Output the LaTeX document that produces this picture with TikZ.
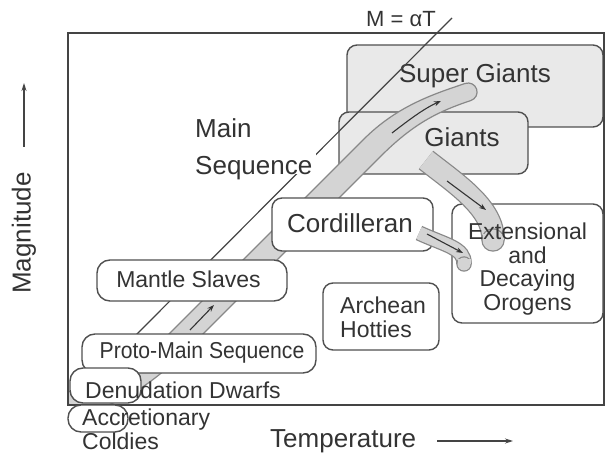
\documentclass[tikz,border=0pt]{standalone}
\usepackage{fontspec}
\setmainfont{Liberation Sans}
\usetikzlibrary{arrows.meta,calc}
\pgfdeclarelayer{bg}
\pgfdeclarelayer{bands}
\pgfdeclarelayer{front}
\pgfdeclarelayer{fronttext}
\pgfsetlayers{bg,bands,main,front,fronttext}
\definecolor{textc}{HTML}{333333}
\definecolor{linec}{HTML}{444444}
\definecolor{boxc}{HTML}{505050}
\definecolor{bandfill}{HTML}{D4D4D4}
\definecolor{bandedge}{HTML}{888888}
\definecolor{giantfill}{HTML}{E9E9E9}
\begin{document}
\begin{tikzpicture}[x=1pt,y=-1pt,
  box/.style={draw=boxc, line width=1.4pt, rounded corners=10pt, fill=white, inner sep=0pt},
  roundbox/.style={box, rounded corners=13pt},
  gbox/.style={box, fill=giantfill},
  txt/.style={text=textc, inner sep=0pt},
  big/.style={font=\fontsize{26}{30}\selectfont},
  small/.style={font=\fontsize{23}{24}\selectfont},
  tip/.style={-{Stealth[length=7pt,width=5pt]}, draw=textc, line width=1.1pt},
  axarrow/.style={-{Stealth[length=8pt,width=5pt]}, draw=linec, line width=1.1pt},
  bandout/.style={draw=bandedge},
  bandin/.style={draw=bandfill}
]
\useasboundingbox (0,0) rectangle (605,454);

% frame
\draw[draw=linec, line width=1.8pt] (68,33) rectangle (604,405);

% giant boxes (background)
\begin{pgfonlayer}{bg}
\node[gbox, minimum width=256pt, minimum height=82pt] (sgbox) at (475,86) {};
\node[gbox, minimum width=189pt, minimum height=62pt] (gbox) at (433.5,143) {};
\node[txt, big, anchor=base] (sg) at (475,83) {Super Giants};
\node[txt, big, anchor=base] (g) at (462,147) {Giants};
\end{pgfonlayer}

% coordinates
\coordinate (L1) at (452,18);
\coordinate (L2) at (128,343);
\coordinate (mbA) at (75,412);
\coordinate (mbB) at (166.5,336.5);
\coordinate (mbC) at (363.5,139.5);
\coordinate (mbL) at (465.1,83.5);
\coordinate (mbT) at (476.6,89.1);
\coordinate (mbR) at (470.9,100.5);
\coordinate (mbC2) at (380.5,156.5);
\coordinate (mbB2) at (183.5,353.5);
\coordinate (gE) at (426,160);
\coordinate (gF) at (493,240);
\coordinate (cG) at (419,233);
\coordinate (cH) at (464,264);

% line M = alpha T and main band
\begin{pgfonlayer}{bands}
\draw[draw=linec, line width=1.2pt] (L1) -- (L2);
\begin{scope}
\clip (68,33) rectangle (604,405);
\draw[fill=bandfill, draw=bandedge, line width=1.2pt]
  (mbA) -- (60,393) .. controls (100,388) and (132,372) .. (mbB) -- (mbC)
  .. controls (396.5,106.5) and (432,94.5) .. (mbL)
  .. controls (469.9,81.9) and (475.0,84.3) .. (mbT)
  .. controls (478.2,93.9) and (475.7,98.9) .. (mbR)
  .. controls (438,111.5) and (413.5,123.5) .. (mbC2) -- (mbB2)
  .. controls (150,385) and (115,410) .. cycle;
\end{scope}
\coordinate (a1s) at (190,330);
\coordinate (a1e) at (214,305);
\coordinate (a2s) at (392,133);
\coordinate (a2e) at (441,101);
\draw[tip] (a1s) -- (a1e);
\draw[tip] (a2s) .. controls (410,119) and (425,108) .. (a2e);
\end{pgfonlayer}

% white boxes
\node[box, minimum width=161pt, minimum height=53pt] (cordbox) at (352.5,224.5) {};
\node[roundbox, minimum width=190pt, minimum height=41pt] (mantlebox) at (192,280.5) {};
\node[roundbox, minimum width=234pt, minimum height=39pt] (protobox) at (199,353.5) {};
\node[roundbox, minimum width=71pt, minimum height=35pt] (denbox) at (105.5,385.5) {};
\node[roundbox, minimum width=60pt, minimum height=27pt] (accbox) at (98,418.5) {};
\node[box, minimum width=116pt, minimum height=67pt] (archbox) at (381,316.5) {};
\node[box, minimum width=151pt, minimum height=119pt] (extbox) at (527.5,263.5) {};

% texts
\node[txt, big, anchor=base] (cord) at (350,233) {Cordilleran};
\node[txt, small, anchor=base] (mantle) at (188.5,288) {Mantle Slaves};
\node[txt, small, anchor=base] (proto) at (202,358) {\scalebox{0.92}[1]{Proto-Main Sequence}};
\node[txt, small, anchor=base west] (den) at (85,398) {Denudation Dwarfs};
\node[txt, anchor=north west, align=left, font=\fontsize{23}{23.5}\selectfont] (acc) at (82,409) {Accretionary\\Coldies};
\node[txt, small, anchor=north west, align=left] (arch) at (340,297) {Archean\\Hotties};
\node[txt, anchor=north west, align=left, fill=white, inner xsep=4pt, inner ysep=0pt, text depth=0pt,
      font=\fontsize{26}{37}\selectfont] (mainseq) at (191,118) {Main\\Sequence};

% side bands
\begin{pgfonlayer}{front}
\draw[bandout, line width=23.5pt, line cap=butt] (gE) .. controls (455,183) and (494,208) .. (gF);
\draw[bandin, line width=21pt] (gE) .. controls (455,183) and (494,208) .. (gF);
\fill[bandedge] (gF) circle (11.75pt);
\fill[bandfill] (gF) circle (10.5pt);
\draw[bandin, line width=21pt] ($(gF)+(0,-6)$) -- (gF);
\draw[bandout, line width=15.5pt] (cG) .. controls (445,245) and (465,248) .. (cH);
\draw[bandin, line width=13pt] (cG) .. controls (445,245) and (465,248) .. (cH);
\fill[bandedge] (cH) circle (7.75pt);
\fill[bandfill] (cH) circle (6.5pt);
\draw[bandin, line width=13pt] ($(cH)+(0,-5)$) -- (cH);
\coordinate (a3s) at (447,181);
\coordinate (a3e) at (486,210);
\coordinate (a4s) at (427,234);
\coordinate (a4e) at (463,253);
\draw[tip] (a3s) -- (a3e);
\draw[tip] (a4s) -- (a4e);
\end{pgfonlayer}

\begin{pgfonlayer}{fronttext}
\node[txt, anchor=north, align=center, font=\fontsize{23}{23.5}\selectfont] (ext) at (527.5,223) {Extensional\\and\\Decaying\\Orogens};
\end{pgfonlayer}

% axis labels
\node[txt, font=\fontsize{22}{26}\selectfont, anchor=base west] (malpha) at (366,27) {M = αT};
\node[txt, big, anchor=base west] (temp) at (270,447) {Temperature};
\node[txt, big, rotate=90] (mag) at (24,233) {Magnitude};
\coordinate (tA) at (437,441);
\coordinate (tB) at (513,441);
\coordinate (mA) at (24,147);
\coordinate (mB) at (24,83);
\draw[axarrow] (tA) -- (tB);
\draw[axarrow] (mA) -- (mB);
\end{tikzpicture}
\end{document}
